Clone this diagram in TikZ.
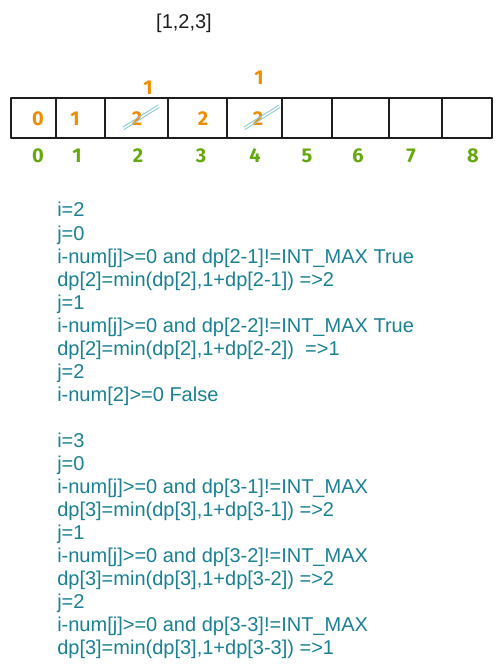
\documentclass[tikz,border=0pt]{standalone}
\usepackage{fontspec}
\setmainfont{Liberation Sans}
\newfontfamily\handfont{Fira Sans}
\usetikzlibrary{calc}
\definecolor{ink}{HTML}{1E1E1E}
\definecolor{code}{HTML}{1A8093}
\definecolor{val}{HTML}{F08C00}
\definecolor{idx}{HTML}{66A80F}
\definecolor{strike}{HTML}{8ECBD6}
\tikzset{
  cell/.style={draw=ink, line width=1pt, line join=round},
  num/.style={text=val, font=\handfont\bfseries\fontsize{15}{15}\selectfont, inner sep=0pt},
  idxlab/.style={text=idx, font=\handfont\bfseries\fontsize{15}{15}\selectfont, inner sep=0pt},
  codeline/.style={text=code, font=\fontsize{15}{18}\selectfont, anchor=base west, inner sep=0pt},
  cross/.style={draw=strike, line width=0.7pt, line cap=round},
}

\begin{document}
\begin{tikzpicture}[x=0.75pt, y=-0.75pt]
  \useasboundingbox (0,0) rectangle (502,670);
  % input array
  \node[text=ink, font=\fontsize{15}{18}\selectfont, anchor=base, inner sep=0pt] (arr) at (184,29) {[1,2,3]};
  % dp cells
  \foreach \k/\a/\b in {0/11/56,1/56/105,2/105/168,3/168/227,4/227/282,5/282/332,6/332/389,7/389/442,8/442/492} {
    \draw[cell] (\a,98) rectangle (\b,138);
    \coordinate (cell\k) at ({(\a+\b)/2},118);
  }
  % values
  \node[num] (v0) at (38,119) {0};
  \node[num] (v1) at (75,119) {1};
  \node[num] (v2) at (137,119) {2};
  \node[num] (v3) at (203,119) {2};
  \node[num] (v4) at (258,119) {2};
  \node[num] (n2) at (148,88) {1};
  \node[num] (n4) at (259,78) {1};
  \foreach \v in {v2,v4} {
    \draw[cross] ($(\v)+(-14,8)$) -- ($(\v)+(21,-14)$);
    \draw[cross] ($(\v)+(-13,10.5)$) -- ($(\v)+(22,-11.5)$);
  }
  % indices
  \foreach \k/\x in {0/38,1/77,2/138,3/201,4/255,5/307,6/358,7/411,8/473}
    \node[idxlab] (i\k) at (\x,156) {\k};
  % trace, i=2
  \foreach [count=\n from 0] \t in {{i=2},{j=0},{i-num[j]>=0 and dp[2-1]!=INT\_MAX True},{dp[2]=min(dp[2],1+dp[2-1]) =>2},{j=1},{i-num[j]>=0 and dp[2-2]!=INT\_MAX True},{dp[2]=min(dp[2],1+dp[2-2]) \ =>1},{j=2},{i-num[2]>=0 False}}
    \node[codeline] (a\n) at (57,{217+23*\n}) {\t};
  % trace, i=3
  \foreach [count=\n from 0] \t in {{i=3},{j=0},{i-num[j]>=0 and dp[3-1]!=INT\_MAX},{dp[3]=min(dp[3],1+dp[3-1]) =>2},{j=1},{i-num[j]>=0 and dp[3-2]!=INT\_MAX},{dp[3]=min(dp[3],1+dp[3-2]) =>2},{j=2},{i-num[j]>=0 and dp[3-3]!=INT\_MAX},{dp[3]=min(dp[3],1+dp[3-3]) =>1}}
    \node[codeline] (b\n) at (57,{447+23*\n}) {\t};
\end{tikzpicture}
\end{document}
